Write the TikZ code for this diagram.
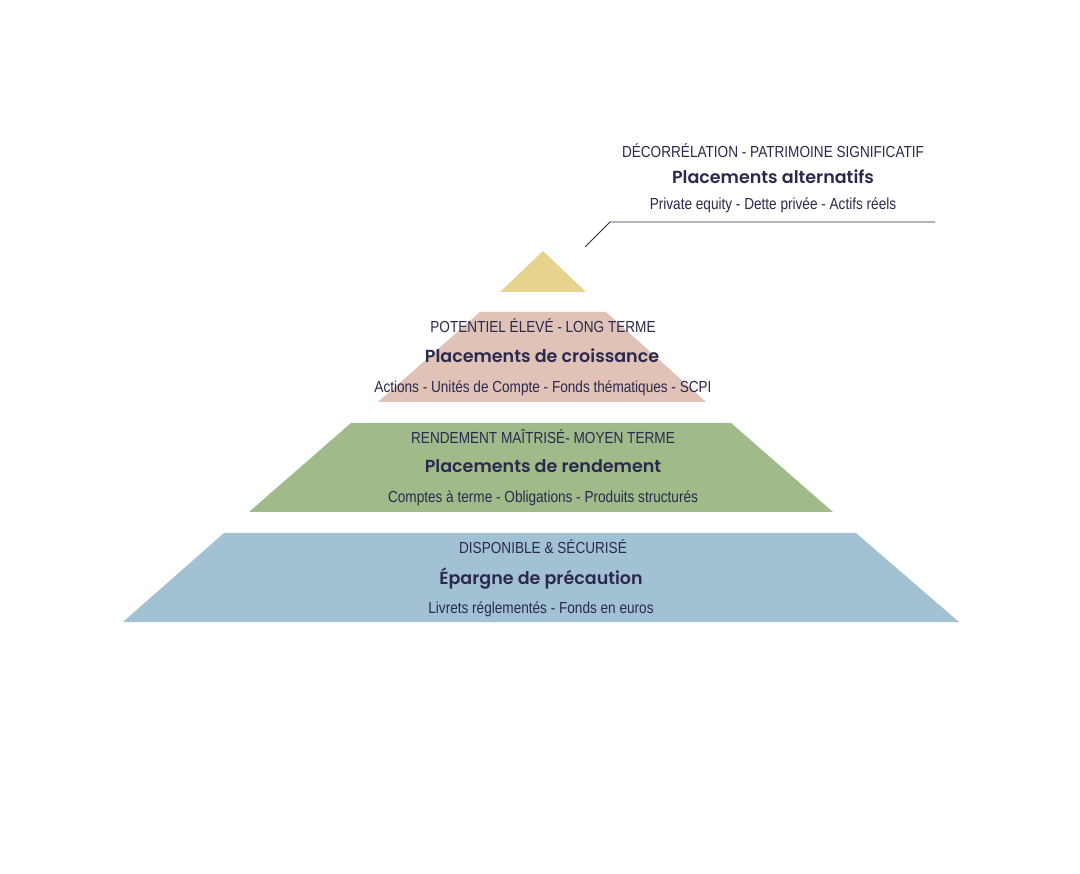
\documentclass[tikz,border=0pt]{standalone}
\usepackage{fontspec}
\newfontfamily\condfont{Liberation Sans}[FakeStretch=0.85]
\newfontfamily\titlefont{Poppins}[BoldFont={Poppins SemiBold}]
\definecolor{txt}{HTML}{2B2A4E}
\definecolor{cyellow}{HTML}{E6D48E}
\definecolor{cpink}{HTML}{E0C2B6}
\definecolor{cgreen}{HTML}{A1BA89}
\definecolor{cblue}{HTML}{A2C2D4}
\tikzset{
  small/.style={font=\condfont\fontsize{16}{19}\selectfont, text=txt, inner sep=0pt, anchor=base},
  title/.style={font=\titlefont\bfseries\fontsize{17.5}{20}\selectfont, text=txt, inner sep=0pt, anchor=base},
  leader/.style={draw=txt, line width=0.9pt}
}
\begin{document}
\begin{tikzpicture}[x=1pt,y=-1pt]
\useasboundingbox (0,0) rectangle (1080,874);
\fill[white] (0,0) rectangle (1080,874);
% tiers
\fill[cyellow] (543,251) -- (586,292) -- (500,292) -- cycle;
\fill[cpink] (480,312) -- (606,312) -- (706,402) -- (378,402) -- cycle;
\fill[cgreen] (351,423) -- (731,423) -- (833,512) -- (249,512) -- cycle;
\fill[cblue] (224,533) -- (856,533) -- (959,622) -- (123,622) -- cycle;
% leader line
\coordinate (ls) at (585,247);
\coordinate (lc) at (610,222);
\coordinate (le) at (935,222);
\draw[leader] (ls) -- (lc) -- (le);
% top text
\node[small] (a1) at (773,158) {DÉCORRÉLATION - PATRIMOINE SIGNIFICATIF};
\node[title] (a2) at (773,184) {Placements alternatifs};
\node[small] (a3) at (773,210) {Private equity - Dette privée - Actifs réels};
% pink
\node[small] (b1) at (543,333) {POTENTIEL ÉLEVÉ - LONG TERME};
\node[title] (b2) at (542,363) {Placements de croissance};
\node[small] (b3) at (543,393) {Actions - Unités de Compte - Fonds thématiques - SCPI};
% green
\node[small] (c1) at (543,444) {RENDEMENT MAÎTRISÉ- MOYEN TERME};
\node[title] (c2) at (543,473) {Placements de rendement};
\node[small] (c3) at (543,503) {Comptes à terme - Obligations - Produits structurés};
% blue
\node[small] (d1) at (543,554) {DISPONIBLE \& SÉCURISÉ};
\node[title] (d2) at (541,584) {Épargne de précaution};
\node[small] (d3) at (541,613) {Livrets réglementés - Fonds en euros};
\end{tikzpicture}
\end{document}
